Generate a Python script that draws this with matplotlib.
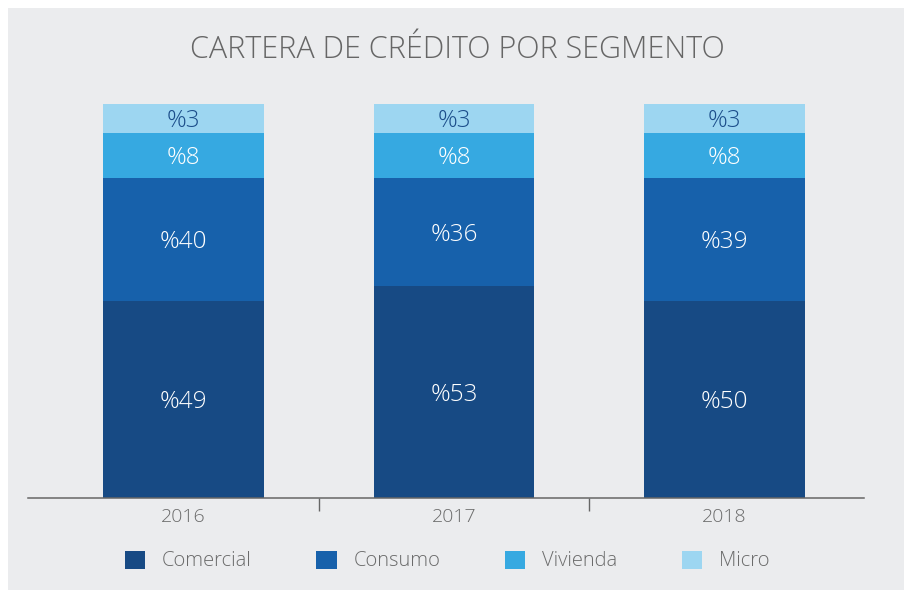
import matplotlib
matplotlib.use("Agg")
import matplotlib.pyplot as plt
from matplotlib.patches import Rectangle
import numpy as np

# data
years = ["2016", "2017", "2018"]
segments = ["Comercial", "Consumo", "Vivienda", "Micro"]
# bar heights as drawn in the picture (share of the axis height)
comercial = [50.0, 53.8, 50.0]
consumo = [31.2, 27.4, 31.2]
vivienda = [11.4, 11.4, 11.4]
micro = [7.4, 7.4, 7.4]
# labels printed in the bars
comercial_lbl = ["%49", "%53", "%50"]
consumo_lbl = ["%40", "%36", "%39"]
vivienda_lbl = ["%8", "%8", "%8"]
micro_lbl = ["%3", "%3", "%3"]

colors = ["#174a84", "#1761ab", "#36a9e1", "#9dd6f1"]
label_colors = ["white", "white", "white", "#1b4d8a"]
bg = "#ebecee"
font = "Open Sans"

W, H = 909, 590
fig = plt.figure(figsize=(W / 100, H / 100), dpi=100, facecolor="white")
fig.patches.append(Rectangle((8 / W, 0), 896 / W, 582 / H, transform=fig.transFigure,
                             facecolor=bg, edgecolor="none", zorder=-5))

ax = fig.add_axes([28 / W, (H - 498) / H, 836 / W, (498 - 103.7) / H])
ax.set_facecolor("none")
ax.set_zorder(2)

x = np.arange(len(years))
series = [comercial, consumo, vivienda, micro]
labels = [comercial_lbl, consumo_lbl, vivienda_lbl, micro_lbl]
bottom = np.zeros(len(years))
for vals, lbls, c, tc, name in zip(series, labels, colors, label_colors, segments):
    vals = np.array(vals)
    ax.bar(x, vals, bottom=bottom, width=0.595, color=c, label=name, zorder=2)
    for xi, b, v, t in zip(x, bottom, vals, lbls):
        ax.text(xi, b + v / 2, t, ha="center", va="center_baseline", color=tc,
                fontsize=17.5, family=font, fontweight="light", zorder=3)
    bottom += vals

ax.set_xlim(-0.575, 2.516)
ax.set_ylim(0, 100)
for s in ["top", "right", "left"]:
    ax.spines[s].set_visible(False)
ax.spines["bottom"].set_color("#666666")
ax.spines["bottom"].set_linewidth(1.1)
ax.set_yticks([])
ax.set_xticks(x)
ax.set_xticklabels(years, family=font, fontsize=14, color="#6b6b6b", fontweight="light")
ax.tick_params(axis="x", which="major", length=0, pad=7)
ax.set_xticks([0.5, 1.5], minor=True)
ax.tick_params(axis="x", which="minor", length=9, width=1, color="#666666", direction="out")

fig.text(0.503, (H - 50) / H, "CARTERA DE CRÉDITO POR SEGMENTO", ha="center", va="center",
         fontsize=22, color="#666666", family=font, fontweight="light")

leg = fig.legend(loc="center", bbox_to_anchor=(0.492, 29 / H), ncol=4, frameon=False,
                 handlelength=1.0, handleheight=1.0, handletextpad=0.85, columnspacing=3.2,
                 prop={"family": font, "size": 14.5, "weight": "light"})
for t in leg.get_texts():
    t.set_color("#6b6b6b")

fig.savefig("out.png", dpi=100, facecolor="white")
